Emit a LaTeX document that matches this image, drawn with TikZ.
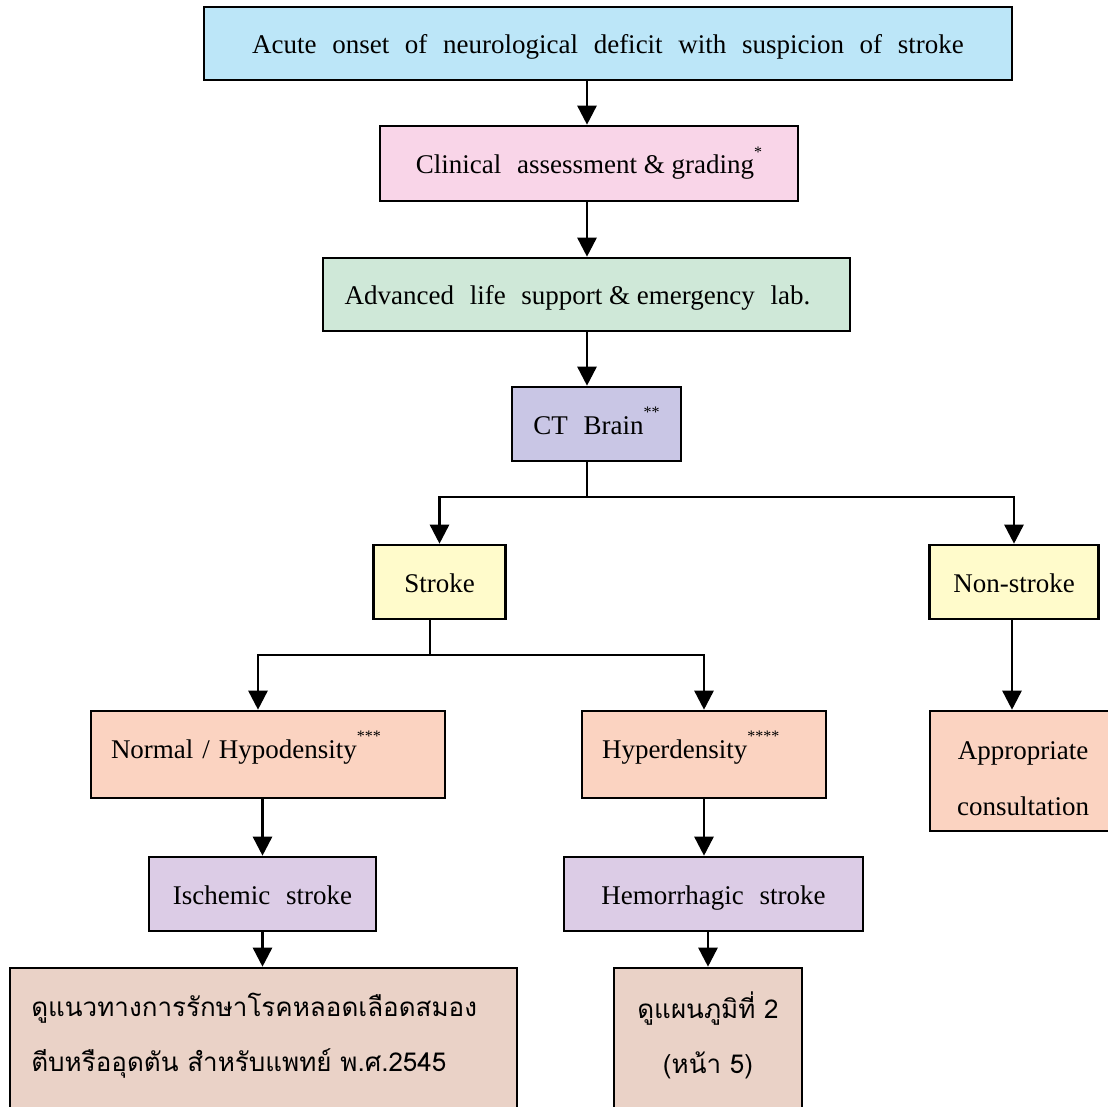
\documentclass[tikz,border=0pt]{standalone}
\usepackage{fontspec}
\setmainfont{Liberation Serif}
\newfontfamily\thaifont[Script=Thai]{Loma}
\usetikzlibrary{arrows.meta}
\definecolor{topblue}{HTML}{BCE6F8}
\definecolor{clinpink}{HTML}{F9D5E8}
\definecolor{alsgreen}{HTML}{CFE8D8}
\definecolor{ctpurple}{HTML}{C9C6E5}
\definecolor{strokeyel}{HTML}{FFFBCB}
\definecolor{densalmon}{HTML}{FBD3C1}
\definecolor{typelav}{HTML}{DCCCE6}
\definecolor{guidetan}{HTML}{EAD2C7}
\newcommand{\ws}{\hspace{0.58em}}
\newcommand{\stars}[1]{\raisebox{0.6em}{\fontsize{16}{16}\selectfont #1}}
\begin{document}
\begin{tikzpicture}[x=1pt, y=-1pt, line width=2.6pt, >={Triangle[width=19pt,length=19pt]},
	box/.style={draw, inner sep=0pt, minimum height=74pt, text height=20pt, text depth=0pt,
		font=\fontsize{27}{33}\selectfont},
	plainbox/.style={draw, inner sep=0pt},
	boxtext/.style={align=center, font=\fontsize{27}{56}\selectfont},
	thaitext/.style={inner sep=0pt, font=\thaifont\fontsize{26}{55}\selectfont}]
	\useasboundingbox (0,0) rectangle (1108,1107);
	\clip (0,0) rectangle (1108,1107);
	% boxes
	\node[box, fill=topblue, minimum width=808, minimum height=73] (top) at (608,43.5)
		{Acute\ws onset\ws of\ws neurological\ws deficit\ws with\ws suspicion\ws of\ws stroke};
	\node[box, fill=clinpink, minimum width=418, minimum height=75] (clin) at (589,163.5)
		{Clinical\ws assessment \& grading\stars{*}};
	\node[box, fill=alsgreen, minimum width=527, minimum height=73] (als) at (586.5,294.5)
		{Advanced\ws life\ws support \& emergency\ws lab.\hspace*{18pt}};
	\node[box, fill=ctpurple, minimum width=169] (ct) at (596.5,424) {CT\ws Brain\stars{**}};
	\node[box, fill=strokeyel, minimum width=132] (stroke) at (439.5,582) {Stroke};
	\node[box, fill=strokeyel, minimum width=169] (nonstk) at (1014,582) {Non-stroke};
	\node[box, fill=densalmon, minimum width=354, minimum height=87, inner xsep=20pt,
		text height=13pt, text depth=6pt, text width=314, align=left] (normal) at (268,754.5)
		{Normal / Hypodensity\stars{***}};
	\node[box, fill=densalmon, minimum width=244, minimum height=87, inner xsep=20pt,
		text height=13pt, text depth=6pt, text width=204, align=left] (hyper) at (704,754.5)
		{Hyperdensity\stars{****}};
	\node[box, fill=typelav, minimum width=227] (isch) at (262.5,894) {Ischemic\ws stroke};
	\node[box, fill=typelav, minimum width=299] (hemo) at (713.5,894) {Hemorrhagic\ws stroke};
	\node[plainbox, fill=densalmon, minimum width=186, minimum height=120] (approp) at (1023,771) {};
	\node[plainbox, fill=guidetan, minimum width=507, minimum height=162] (thaiA) at (263.5,1049) {};
	\node[plainbox, fill=guidetan, minimum width=188, minimum height=162] (thaiB) at (708,1049) {};
	% texts of the open boxes
	\node[boxtext] (approptxt) at (1023,779) {Appropriate\\consultation};
	\node[thaitext, anchor=west, align=left] (thaiAtxt) at (30,1035.5)
		{ดูแนวทางการรักษาโรคหลอดเลือดสมอง\\ตีบหรืออุดตัน สำหรับแพทย์ พ.ศ.2545};
	\node[thaitext, align=center] (thaiBtxt) at (708,1035.5) {ดูแผนภูมิที่ 2\\(หน้า 5)};
	% connectors
	\coordinate (spine) at (587,0);
	\coordinate (ctfork) at (587,497);
	\coordinate (stfork) at (430,655);
	\draw[->] (top.south -| spine) -- (clin.north -| spine);
	\draw[->] (clin.south -| spine) -- (als.north -| spine);
	\draw[->] (als.south -| spine) -- (ct.north -| spine);
	\draw (ct.south -| ctfork) -- (ctfork);
	\draw[->] (ctfork) -| (stroke.north);
	\draw[->] (ctfork) -| (nonstk.north);
	\draw (stroke.south -| stfork) -- (stfork);
	\draw[->] (stfork) -| ([xshift=-10pt]normal.north);
	\draw[->] (stfork) -| (hyper.north);
	\draw[->] ([xshift=-2pt]nonstk.south) -- ([xshift=-2pt]nonstk.south |- approp.north);
	\draw[->] (normal.south -| isch.north) -- (isch.north);
	\draw[->] (hyper.south) -- (hyper.south |- hemo.north);
	\draw[->] (isch.south) -- (isch.south |- thaiA.north);
	\draw[->] (hemo.south -| thaiB.north) -- (thaiB.north);
\end{tikzpicture}
\end{document}
